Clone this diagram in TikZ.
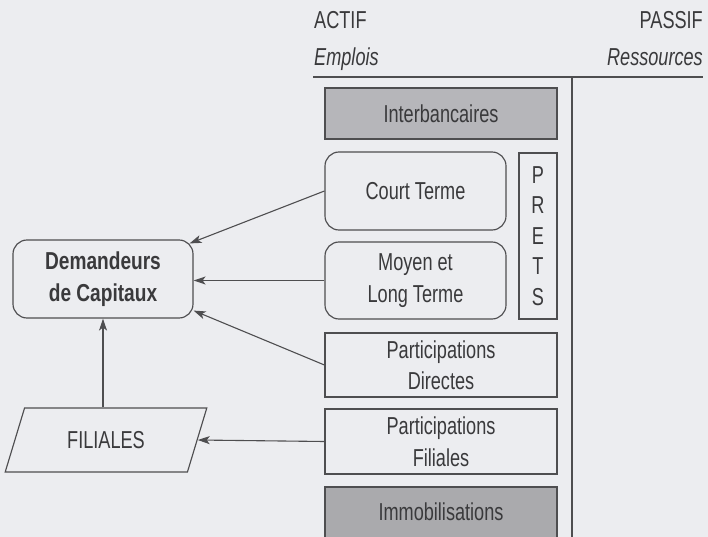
\documentclass[tikz,border=0pt]{standalone}
\usepackage{fontspec}
\setmainfont{Liberation Sans}[FakeStretch=0.74,BoldFeatures={FakeStretch=0.78}]
\usetikzlibrary{arrows.meta,shapes.geometric,calc}
\definecolor{paper}{RGB}{236,237,240}
\definecolor{ink}{RGB}{58,58,60}
\definecolor{rule}{RGB}{78,78,80}
\definecolor{shade}{RGB}{182,182,186}
\definecolor{shadedark}{RGB}{170,170,173}
\tikzset{
  txt/.style={font=\fontsize{24.5}{31.5}\selectfont, text=ink, align=center, inner sep=0pt},
  box/.style={txt, draw=rule, line width=1.15pt, rectangle},
  rbox/.style={box, rounded corners=14pt},
  shaded/.style={box, fill=shade},
  arr/.style={draw=rule, line width=1.1pt, -{Stealth[length=12pt,width=8pt,inset=3pt]}},
}
\begin{document}
\begin{tikzpicture}[x=1pt,y=-1pt]
  \fill[paper] (0,0) rectangle (708,537);
  \useasboundingbox (0,0) rectangle (708,537);

  % column headings
  \node[txt, anchor=base west] (actif) at (314,28.5) {ACTIF};
  \node[txt, anchor=base west] (emplois) at (314,66) {\itshape Emplois};
  \node[txt, anchor=base east] (passif) at (703,28.5) {PASSIF};
  \node[txt, anchor=base east] (ressources) at (703,66) {\itshape Ressources};
  \coordinate (hl) at (313,77);
  \coordinate (hr) at (703,77);
  \coordinate (vt) at (572,77);
  \coordinate (vb) at (572,545);
  \draw[rule, line width=1.15pt] (hl) -- (hr);
  \draw[rule, line width=1.15pt] (vt) -- (vb);

  % asset boxes
  \node[shaded, minimum width=232, minimum height=51] (interb) at (441,113.5) {Interbancaires};
  \node[rbox, minimum width=181, minimum height=78] (court) at (415.5,191) {Court Terme};
  \node[rbox, minimum width=181, minimum height=77] (moyen) at (415.5,280.5) {Moyen et\\Long Terme};
  \node[box, minimum width=38, minimum height=166, font=\fontsize{24.5}{30.5}\selectfont] (prets) at (538,236) {P\\R\\E\\T\\S};
  \node[box, minimum width=232, minimum height=64] (partd) at (441,365) {Participations\\Directes};
  \node[box, minimum width=232, minimum height=65] (partf) at (441,441.5) {Participations\\Filiales};
  \node[shaded, fill=shadedark, minimum width=232, minimum height=56] (immo) at (441,515) {};
  \node[txt] (immotxt) at (441,512) {Immobilisations};

  % borrowers
  \node[rbox, minimum width=180, minimum height=78] (demand) at (103,279) {\bfseries Demandeurs\\\bfseries de Capitaux};
  \node[box, trapezium, trapezium stretches=true, trapezium left angle=62, trapezium right angle=118,
        minimum width=202, minimum height=64] (fil) at (106,440) {FILIALES};

  % flows
  \draw[arr] (court.west) -- ($(demand.north east)+(-4,4)$);
  \draw[arr] (moyen.west) -- (moyen.west -| demand.east);
  \draw[arr] (partd.west) -- ($(demand.south east)+(0,-8)$);
  \draw[arr] (partf.west) -- (fil.east);
  \draw[arr] (demand.south |- fil.north) -- (demand.south);
\end{tikzpicture}
\end{document}
